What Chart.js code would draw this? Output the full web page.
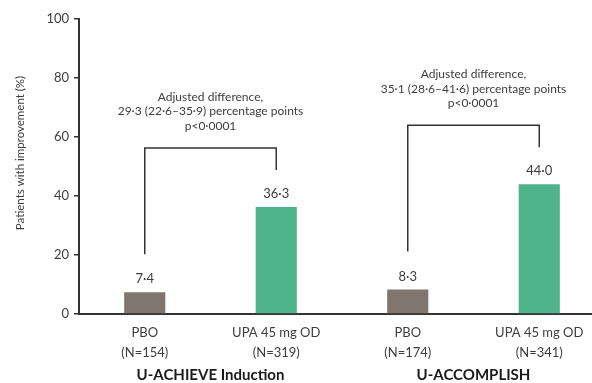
<!DOCTYPE html>
<html>
<head>
<meta charset="utf-8">
<script src="https://cdn.jsdelivr.net/npm/chart.js@4/dist/chart.umd.min.js"></script>
<style>
  html, body { margin: 0; padding: 0; background: #fff; overflow: hidden; }
  #wrap { position: absolute; left: 0; top: 0; width: 620px; height: 383px; }
</style>
</head>
<body>
<div id="wrap"><canvas id="c" width="620" height="383"></canvas></div>
<script>
// Treatment arms (two lines per tick label)
const categories = [
  ["PBO", "(N=154)"],
  ["UPA 45 mg OD", "(N=319)"],
  ["PBO", "(N=174)"],
  ["UPA 45 mg OD", "(N=341)"]
];
// Patients with improvement (%)
const values = [7.4, 36.3, 8.3, 44.0];
const yTicks = [0, 20, 40, 60, 80, 100];
// Studies: each groups a placebo arm and an upadacitinib arm
const studies = ["U-ACHIEVE Induction", "U-ACCOMPLISH"];
const studyArms = [[0, 1], [2, 3]];
const comparisons = [
  ["Adjusted difference,", "29·3 (22·6–35·9) percentage points", "p<0·0001"],
  ["Adjusted difference,", "35·1 (28·6–41·6) percentage points", "p<0·0001"]
];
const yTitle = "Patients with improvement (%)";

const TEXT = "#3d3d3d";
const LINE = "#333333";
const FONT = "Lato, 'Open Sans', sans-serif";
const barColors = ["#7f7670", "#4fb38b", "#7f7670", "#4fb38b"];

const fmt = v => v.toFixed(1).replace(".", "·");

const overlay = {
  id: "overlay",
  afterDatasetsDraw(chart) {
    const { ctx, scales: { x, y } } = chart;
    const meta = chart.getDatasetMeta(0);
    ctx.save();
    ctx.fillStyle = TEXT;
    ctx.textAlign = "center";
    ctx.textBaseline = "middle";

    // value labels above bars
    ctx.font = "13px " + FONT;
    meta.data.forEach((bar, i) => {
      ctx.fillText(fmt(values[i]), bar.x, bar.y - 13);
    });

    // comparison brackets and their text
    studyArms.forEach(([a, b], g) => {
      const xa = meta.data[a].x, xb = meta.data[b].x;
      const ya = y.getPixelForValue(values[a]) - 38;
      const yb = y.getPixelForValue(values[b]) - 37;
      const top = Math.min(ya, yb) - 22;
      ctx.strokeStyle = LINE;
      ctx.lineWidth = 1.5;
      ctx.beginPath();
      ctx.moveTo(xa, ya);
      ctx.lineTo(xa, top);
      ctx.lineTo(xb, top);
      ctx.lineTo(xb, yb);
      ctx.stroke();
      ctx.font = "12px " + FONT;
      const cx = (xa + xb) / 2;
      const lines = comparisons[g];
      lines.forEach((t, k) => {
        ctx.fillText(t, cx, top - 22 - (lines.length - 1 - k) * 14.5);
      });
      // study name under the arm labels
      ctx.font = "bold 15px " + FONT;
      ctx.fillStyle = "#1a1a1a";
      ctx.fillText(studies[g], cx, 375);
      ctx.fillStyle = TEXT;
    });

    // y-axis title
    ctx.font = "11.5px " + FONT;
    ctx.translate(20, 153);
    ctx.rotate(-Math.PI / 2);
    ctx.fillText(yTitle, 0, 0);
    ctx.restore();
  }
};

new Chart(document.getElementById("c"), {
  type: "bar",
  data: {
    labels: categories,
    datasets: [{
      data: values,
      backgroundColor: barColors,
      borderWidth: 0,
      categoryPercentage: 1,
      barPercentage: 0.313
    }]
  },
  options: {
    responsive: false,
    animation: false,
    layout: { padding: { top: 19, right: 15, left: 0, bottom: 0 } },
    plugins: { legend: { display: false }, tooltip: { enabled: false } },
    scales: {
      x: {
        offset: true,
        grid: { display: false, drawTicks: false },
        border: { display: true, color: LINE, width: 2 },
        ticks: {
          color: TEXT,
          font: { family: FONT, size: 13, lineHeight: 1.55 },
          padding: 9,
          maxRotation: 0,
          autoSkip: false
        },
        afterFit(s) { s.height = 69; }
      },
      y: {
        min: 0,
        max: 100,
        afterBuildTicks(s) { s.ticks = yTicks.map(v => ({ value: v })); },
        grid: { display: true, drawOnChartArea: false, drawTicks: true, tickLength: 5, color: LINE, lineWidth: 1.5 },
        border: { display: true, color: LINE, width: 2 },
        ticks: { color: TEXT, font: { family: FONT, size: 13 }, padding: 5 },
        afterFit(s) { s.width = 79; }
      }
    }
  },
  plugins: [overlay]
});
</script>
</body>
</html>
